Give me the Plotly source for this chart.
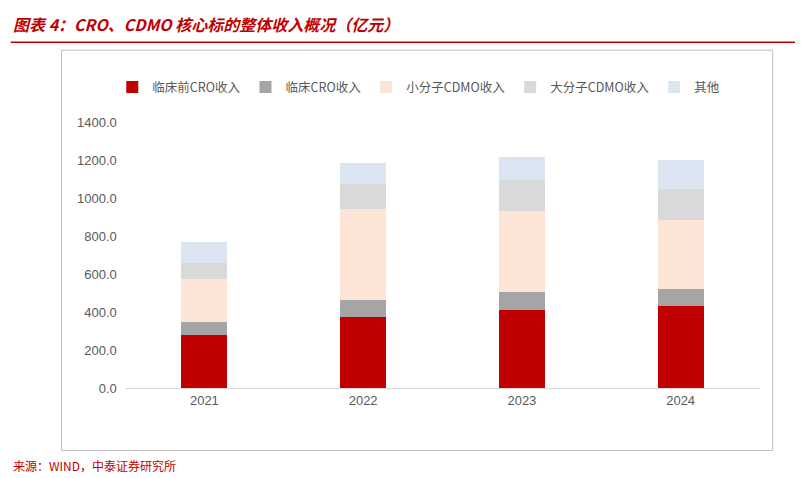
import plotly.graph_objects as go

years = ["2021", "2022", "2023", "2024"]
series_names = ["临床前CRO收入", "临床CRO收入", "小分子CDMO收入", "大分子CDMO收入", "其他"]
preclinical = [279, 373, 410, 431]
clinical = [68, 90, 95, 90]
small_mol = [226, 479, 426, 363]
large_mol = [84, 131, 163, 163]
other = [111, 111, 121, 152]
colors = ["#C00000", "#A5A5A5", "#FCE4D6", "#D9D9D9", "#DCE6F2"]

font = "Noto Sans CJK SC"
fig = go.Figure()
for name, vals, c in zip(series_names, [preclinical, clinical, small_mol, large_mol, other], colors):
    fig.add_bar(x=years, y=vals, name=name, marker_color=c, marker_line_width=0)

fig.update_layout(
    barmode="stack", bargap=0.71, width=803, height=478,
    paper_bgcolor="white", plot_bgcolor="white",
    margin=dict(l=117, r=51, t=114, b=98),
    font=dict(family=font, size=13, color="#595959"),
    legend=dict(orientation="h", x=-0.02, y=1.13, xanchor="left", yanchor="middle",
                font=dict(size=12.5, color="#595959"), traceorder="normal", itemwidth=30,
                tracegroupgap=0),
    xaxis=dict(showline=True, linecolor="#D9D9D9", tickfont=dict(size=13, family="Liberation Sans")),
    yaxis=dict(range=[0, 1400], dtick=200, tickformat=".1f", showgrid=False, zeroline=False,
               tickfont=dict(size=13, family="Liberation Sans"), ticksuffix="  "),
    shapes=[
        dict(type="rect", xref="paper", yref="paper", x0=-0.1, x1=1.02, y0=-0.235, y1=1.27,
             line=dict(color="#BFBFBF", width=1)),
        dict(type="line", xref="paper", yref="paper", x0=-0.18, x1=1.06, y0=1.3, y1=1.3,
             line=dict(color="#C00000", width=1.5)),
    ],
    annotations=[
        dict(text="<b><i>图表 4：CRO、CDMO 核心标的整体收入概况（亿元）</i></b>", xref="paper", yref="paper",
             x=-0.18, y=1.37, xanchor="left", yanchor="middle", showarrow=False,
             font=dict(size=16, color="#C00000", family=font)),
        dict(text="来源：WIND，中泰证券研究所", xref="paper", yref="paper",
             x=-0.18, y=-0.29, xanchor="left", yanchor="middle", showarrow=False,
             font=dict(size=12, color="#C00000", family=font)),
    ],
)
fig.write_html("out.html")
